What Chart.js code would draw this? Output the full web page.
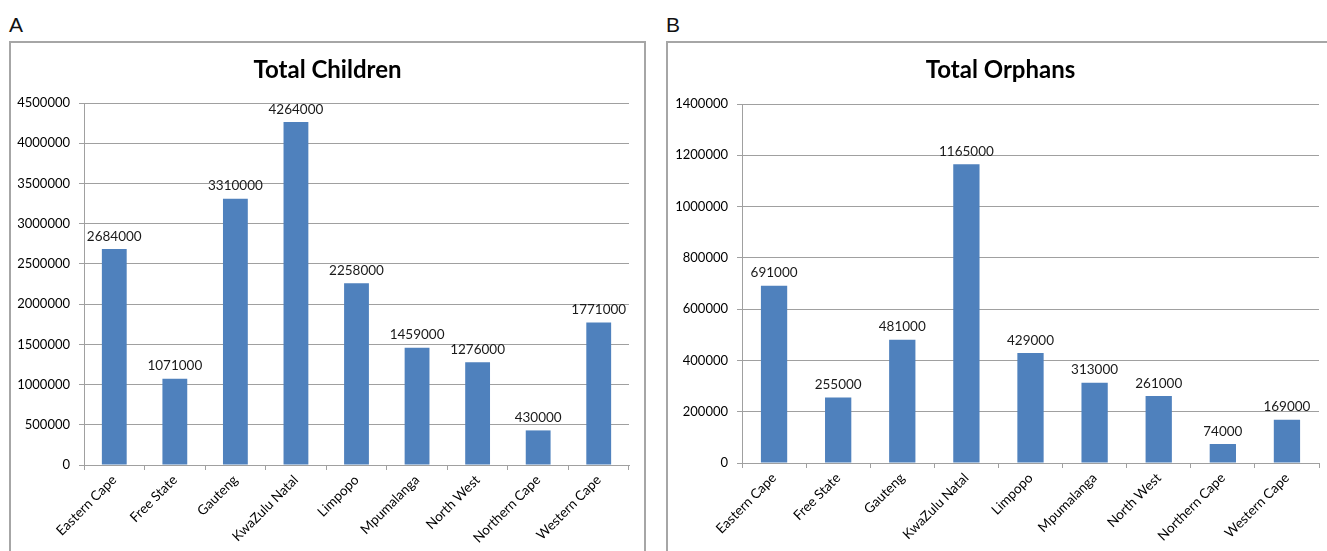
<!DOCTYPE html>
<html>
<head>
<meta charset="utf-8">
<script src="https://cdn.jsdelivr.net/npm/chart.js@4/dist/chart.umd.min.js"></script>
<style>
  html, body { margin: 0; padding: 0; background: #fff; }
  body { width: 1327px; height: 551px; position: relative; overflow: hidden; font-family: "Liberation Sans", Arial, sans-serif; }
  .panel-label { position: absolute; font-size: 21px; color: #111; line-height: 1; }
  .frame { position: absolute; border: 2px solid #a6a6a6; box-sizing: border-box; }
  .holder { position: absolute; }
</style>
</head>
<body>
<div class="panel-label" style="left:9px; top:14px;">A</div>
<div class="panel-label" style="left:666px; top:14px;">B</div>
<div class="frame" style="left:9px; top:41px; width:637px; height:520px;"></div>
<div class="frame" style="left:666px; top:41px; width:670px; height:520px;"></div>
<div class="holder" style="left:11px; top:43px; width:633px; height:508px;"><canvas id="chartA"></canvas></div>
<div class="holder" style="left:668px; top:43px; width:659px; height:508px;"><canvas id="chartB"></canvas></div>

<script>
// Provinces of South Africa
const provinces = ['Eastern Cape', 'Free State', 'Gauteng', 'KwaZulu Natal', 'Limpopo',
                   'Mpumalanga', 'North West', 'Northern Cape', 'Western Cape'];

// Total children per province
const totalChildren = [2684000, 1071000, 3310000, 4264000, 2258000, 1459000, 1276000, 430000, 1771000];

// Total orphans per province
const totalOrphans = [691000, 255000, 481000, 1165000, 429000, 313000, 261000, 74000, 169000];

// Value axis ranges
const childrenAxis = { min: 0, max: 4500000, step: 500000 };
const orphansAxis = { min: 0, max: 1400000, step: 200000 };

const BAR_COLOR = '#4f81bd';
const GRID_COLOR = '#a0a0a0';
const FONT = 'Lato, "Open Sans", sans-serif';

// Writes each bar's value just above it
const valueLabels = {
  id: 'valueLabels',
  afterDatasetsDraw(chart) {
    const ctx = chart.ctx;
    const meta = chart.getDatasetMeta(0);
    const data = chart.data.datasets[0].data;
    ctx.save();
    ctx.font = '13.5px ' + FONT;
    ctx.fillStyle = '#1a1a1a';
    ctx.textAlign = 'center';
    ctx.textBaseline = 'bottom';
    meta.data.forEach((bar, i) => {
      ctx.fillText(String(data[i]), bar.x, bar.y - 6);
    });
    ctx.restore();
  }
};

// Chart heading, centred across the whole canvas rather than the plot area
const heading = {
  id: 'heading',
  afterDraw(chart, args, opts) {
    const ctx = chart.ctx;
    ctx.save();
    ctx.font = 'bold 24px ' + FONT;
    ctx.fillStyle = '#000';
    ctx.textAlign = 'center';
    ctx.textBaseline = 'alphabetic';
    ctx.fillText(opts.text, chart.width / 2 + (opts.shift || 0), opts.baseline);
    ctx.restore();
  }
};

function makeChart(id, title, values, axis, yWidth, xHeight, padTop, padRight, shift) {
  return new Chart(document.getElementById(id), {
    type: 'bar',
    data: {
      labels: provinces,
      datasets: [{
        data: values,
        backgroundColor: BAR_COLOR,
        borderWidth: 0,
        barPercentage: 0.41,
        categoryPercentage: 1.0
      }]
    },
    options: {
      responsive: true,
      maintainAspectRatio: false,
      animation: false,
      layout: { padding: { left: 0, right: padRight, top: padTop, bottom: 0 } },
      plugins: {
        legend: { display: false },
        tooltip: { enabled: false },
        title: { display: false },
        heading: { text: title, baseline: 35, shift: shift }
      },
      scales: {
        x: {
          grid: {
            display: true,
            drawOnChartArea: false,
            drawTicks: true,
            tickLength: 5,
            color: GRID_COLOR,
            offset: true
          },
          border: { display: true, color: GRID_COLOR, width: 1 },
          ticks: {
            color: '#000',
            font: { family: FONT, size: 13.5 },
            minRotation: 45,
            maxRotation: 45,
            autoSkip: false,
            padding: 2
          },
          afterFit(scale) { scale.height = xHeight; }
        },
        y: {
          min: axis.min,
          max: axis.max,
          grid: {
            color: GRID_COLOR,
            drawTicks: true,
            tickLength: 5
          },
          border: { display: true, color: GRID_COLOR, width: 1 },
          ticks: {
            stepSize: axis.step,
            color: '#000',
            font: { family: FONT, size: 13 },
            padding: 9,
            callback: (v) => String(v)
          },
          afterFit(scale) { scale.width = yWidth; }
        }
      }
    },
    plugins: [valueLabels, heading]
  });
}

makeChart('chartA', 'Total Children', totalChildren, childrenAxis, 73, 86, 60, 15, 0);
makeChart('chartB', 'Total Orphans', totalOrphans, orphansAxis, 74, 88, 61, 8, 3);
</script>
</body>
</html>
